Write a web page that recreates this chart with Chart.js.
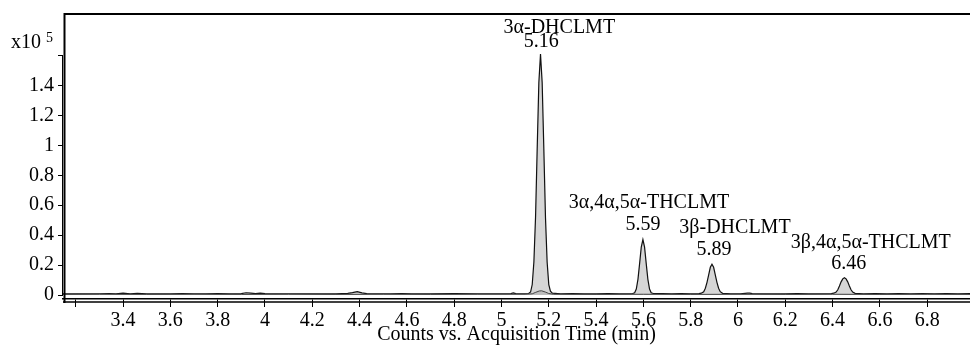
<!DOCTYPE html>
<html>
<head>
<meta charset="utf-8">
<script src="https://cdn.jsdelivr.net/npm/chart.js@4.4.1/dist/chart.umd.min.js"></script>
<style>
  html, body { margin: 0; padding: 0; background: #fff; }
  #wrap { width: 970px; height: 345px; position: relative; }
</style>
</head>
<body>
<div id="wrap"><canvas id="chromatogram"></canvas></div>
<script>
// Tick values
const X_TICKS = [3.2, 3.4, 3.6, 3.8, 4, 4.2, 4.4, 4.6, 4.8, 5, 5.2, 5.4, 5.6, 5.8, 6, 6.2, 6.4, 6.6, 6.8];
const Y_TICKS = [0, 0.2, 0.4, 0.6, 0.8, 1, 1.2, 1.4, 1.6];

// Peak annotations (retention time, apex height x10^5, compound)
const PEAK_TIMES = [5.16, 5.59, 5.89, 6.46];
const PEAK_HEIGHTS = [1.61, 0.37, 0.205, 0.116];
const PEAK_NAMES = ['3α-DHCLMT', '3α,4α,5α-THCLMT', '3β-DHCLMT', '3β,4α,5α-THCLMT'];

// Main trace: [time (min), counts x10^5]
const TRACE_MAIN = [
    [3.146, 0.008], [3.18, 0.007], [3.22, 0.008], [3.26, 0.007], [3.30, 0.008], [3.34, 0.010],
    [3.37, 0.008], [3.40, 0.012], [3.43, 0.008], [3.46, 0.011], [3.50, 0.007], [3.55, 0.008],
    [3.60, 0.007], [3.65, 0.009], [3.70, 0.008], [3.75, 0.008], [3.80, 0.009], [3.85, 0.008],
    [3.90, 0.009], [3.92, 0.015], [3.94, 0.013], [3.96, 0.009], [3.98, 0.012], [4.00, 0.009],
    [4.05, 0.008], [4.10, 0.007], [4.15, 0.008], [4.20, 0.008], [4.25, 0.007], [4.30, 0.008],
    [4.35, 0.011], [4.37, 0.016], [4.39, 0.022], [4.41, 0.014], [4.43, 0.009], [4.48, 0.008],
    [4.53, 0.007], [4.58, 0.010], [4.62, 0.008], [4.70, 0.008], [4.80, 0.009], [4.90, 0.008],
    [5.00, 0.008], [5.04, 0.009], [5.05, 0.014], [5.06, 0.009], [5.10, 0.008], [5.115, 0.010],
    [5.123, 0.020], [5.130, 0.070], [5.137, 0.220], [5.144, 0.520], [5.151, 0.980], [5.158, 1.420],
    [5.165, 1.610], [5.172, 1.420], [5.179, 0.980], [5.186, 0.520], [5.193, 0.220], [5.200, 0.070],
    [5.207, 0.025], [5.215, 0.012], [5.25, 0.008], [5.30, 0.009], [5.35, 0.008], [5.40, 0.008],
    [5.45, 0.009], [5.50, 0.008], [5.545, 0.008],
    [5.555, 0.010], [5.563, 0.015], [5.570, 0.040], [5.577, 0.105], [5.584, 0.210], [5.591, 0.320],
    [5.598, 0.370], [5.605, 0.320], [5.612, 0.210], [5.619, 0.105], [5.626, 0.040], [5.633, 0.015],
    [5.642, 0.010], [5.68, 0.009], [5.72, 0.008], [5.76, 0.009], [5.80, 0.008], [5.835, 0.009],
    [5.845, 0.012], [5.855, 0.022], [5.862, 0.045], [5.869, 0.085], [5.876, 0.135], [5.883, 0.185],
    [5.890, 0.205], [5.897, 0.185], [5.904, 0.135], [5.911, 0.085], [5.918, 0.045], [5.925, 0.022],
    [5.935, 0.011], [5.97, 0.008], [6.01, 0.008], [6.04, 0.012], [6.05, 0.013], [6.06, 0.009],
    [6.10, 0.008], [6.15, 0.007], [6.20, 0.008], [6.25, 0.009], [6.30, 0.008], [6.35, 0.008],
    [6.395, 0.009],
    [6.405, 0.012], [6.415, 0.020], [6.422, 0.035], [6.429, 0.060], [6.436, 0.088], [6.443, 0.108],
    [6.450, 0.116], [6.457, 0.108], [6.464, 0.088], [6.471, 0.060], [6.478, 0.035], [6.485, 0.020],
    [6.495, 0.011], [6.53, 0.008], [6.58, 0.009], [6.63, 0.008], [6.68, 0.009], [6.73, 0.008],
    [6.78, 0.009], [6.83, 0.008], [6.88, 0.009], [6.93, 0.008], [6.981, 0.009]
];

// Second (overlaid) trace, small bump under the 5.16 peak
const TRACE_SECOND = [
    [3.146, 0.004], [3.3, 0.005], [3.5, 0.004], [3.7, 0.005], [3.9, 0.004], [4.1, 0.005],
    [4.3, 0.004], [4.5, 0.005], [4.7, 0.004], [4.9, 0.005], [5.1, 0.005], [5.13, 0.008],
    [5.145, 0.018], [5.16, 0.027], [5.17, 0.028], [5.185, 0.020], [5.2, 0.010], [5.22, 0.005],
    [5.4, 0.004], [5.6, 0.005], [5.8, 0.004], [6.0, 0.005], [6.2, 0.004], [6.4, 0.005],
    [6.6, 0.004], [6.8, 0.005], [6.981, 0.004]
];

const FONT_FAMILY = '"Liberation Serif", "Times New Roman", serif';
// name label pixel offsets from apex: [dx name, gap number, gap name]
const LABEL_OFFSETS = [[20, 7, 14], [8, 10, 22], [23, 9, 22], [24, 9, 21]];

// ======================
// Frame + annotations
// ======================
const framePlugin = {
    id: 'frame',
    afterDraw(chart) {
        const { ctx, chartArea, scales } = chart;
        const { left, right, top, bottom } = chartArea;
        ctx.save();
        ctx.strokeStyle = '#000';

        // top + left frame
        ctx.lineWidth = 2;
        ctx.beginPath();
        ctx.moveTo(left + 1.5, bottom + 4);
        ctx.lineTo(left + 1.5, top);
        ctx.lineTo(right, top);
        ctx.stroke();

        // second bottom line
        ctx.lineWidth = 1.5;
        ctx.beginPath();
        ctx.moveTo(left, bottom + 3);
        ctx.lineTo(right, bottom + 3);
        ctx.stroke();

        // thin y axis line, 0 to 1.6
        ctx.lineWidth = 1;
        ctx.beginPath();
        ctx.moveTo(left - 0.5, scales.y.getPixelForValue(0));
        ctx.lineTo(left - 0.5, scales.y.getPixelForValue(Y_TICKS[Y_TICKS.length - 1]));
        ctx.stroke();

        // exponent label
        ctx.fillStyle = '#000';
        ctx.textBaseline = 'alphabetic';
        ctx.textAlign = 'left';
        ctx.font = '20px ' + FONT_FAMILY;
        ctx.fillText('x10', 11, 48);
        ctx.font = '14px ' + FONT_FAMILY;
        ctx.fillText('5', 46, 42);

        // peak labels
        ctx.font = '20px ' + FONT_FAMILY;
        ctx.textAlign = 'center';
        PEAK_TIMES.forEach((t, i) => {
            const x = scales.x.getPixelForValue(t);
            const apex = scales.y.getPixelForValue(PEAK_HEIGHTS[i]);
            const [dx, gapNum, gapName] = LABEL_OFFSETS[i];
            const numY = apex - gapNum;
            ctx.fillText(t.toFixed(2), x + 2, numY);
            ctx.fillText(PEAK_NAMES[i], x + dx, numY - gapName);
        });
        ctx.restore();
    }
};

const tickFont = { family: FONT_FAMILY, size: 20 };

new Chart(document.getElementById('chromatogram'), {
    type: 'scatter',
    data: {
        datasets: [
            {
                data: TRACE_MAIN.map(([x, y]) => ({ x, y })),
                showLine: true,
                borderColor: '#111',
                borderWidth: 1.2,
                backgroundColor: '#d6d6d6',
                fill: 'origin',
                pointRadius: 0,
                tension: 0,
                order: 1
            },
            {
                data: TRACE_SECOND.map(([x, y]) => ({ x, y })),
                showLine: true,
                borderColor: '#444',
                borderWidth: 1,
                backgroundColor: '#bdbdbd',
                fill: 'origin',
                pointRadius: 0,
                tension: 0,
                order: 0
            }
        ]
    },
    options: {
        responsive: true,
        maintainAspectRatio: false,
        animation: false,
        layout: { padding: { top: 14, left: 0, right: 0, bottom: 0 } },
        plugins: {
            legend: { display: false },
            tooltip: { enabled: false }
        },
        scales: {
            x: {
                type: 'linear',
                min: 3.146,
                max: 6.981,
                afterFit: s => { s.height = 46; s.paddingLeft = 0; s.paddingRight = 0; },
                afterBuildTicks: s => { s.ticks = X_TICKS.map(v => ({ value: v })); },
                ticks: {
                    callback: v => (v === X_TICKS[0] ? '' : String(v)),
                    font: tickFont,
                    color: '#000',
                    padding: 2,
                    maxRotation: 0,
                    autoSkip: false
                },
                grid: { drawOnChartArea: false, drawTicks: true, tickLength: 8, color: '#000' },
                border: { display: true, color: '#000', width: 1.5 },
                title: {
                    display: true,
                    text: 'Counts vs. Acquisition Time (min)',
                    font: { family: FONT_FAMILY, size: 20, lineHeight: 1 },
                    color: '#000',
                    padding: { top: 0, bottom: 0 }
                }
            },
            y: {
                type: 'linear',
                min: -0.0267,
                max: 1.878,
                afterFit: s => { s.width = 63; s.paddingTop = 0; s.paddingBottom = 0; },
                afterBuildTicks: s => { s.ticks = Y_TICKS.map(v => ({ value: v })); },
                ticks: {
                    callback: v => (v === Y_TICKS[Y_TICKS.length - 1] ? '' : String(v)),
                    font: tickFont,
                    color: '#000',
                    padding: 4
                },
                grid: { drawOnChartArea: false, drawTicks: true, tickLength: 5, color: '#000' },
                border: { display: false }
            }
        }
    },
    plugins: [framePlugin]
});
</script>
</body>
</html>
